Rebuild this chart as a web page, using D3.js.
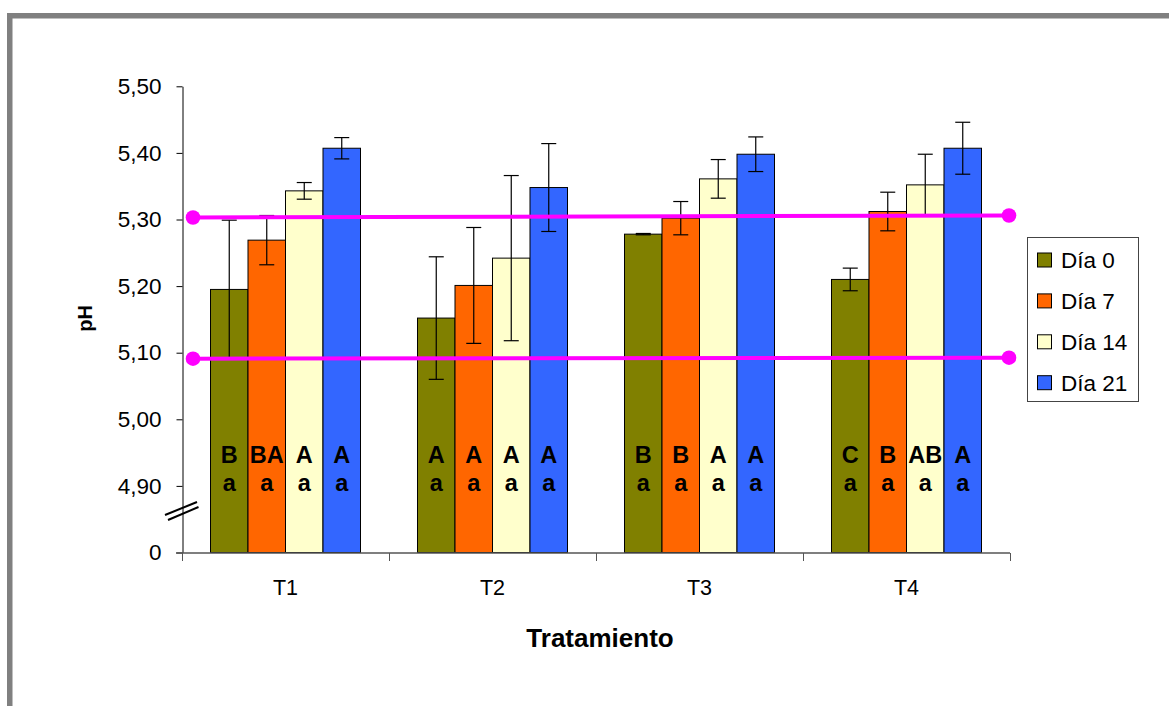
<!DOCTYPE html>
<html>
<head>
<meta charset="utf-8">
<script src="https://cdn.jsdelivr.net/npm/d3@7"></script>
<style>
  html, body { margin: 0; padding: 0; background: #fff; }
  svg { display: block; font-family: "Liberation Sans", Arial, sans-serif; }
</style>
</head>
<body>
<svg id="chart" width="1169" height="706"></svg>
<script>
// ---- data ----
const categories = ["T1", "T2", "T3", "T4"];
const series = ["Día 0", "Día 7", "Día 14", "Día 21"];
const colors = ["#808000", "#FF6600", "#FFFFCC", "#3366FF"];
const dia0 = [5.195, 5.152, 5.278, 5.210];
const dia7 = [5.269, 5.201, 5.302, 5.312];
const dia14 = [5.343, 5.242, 5.361, 5.352];
const dia21 = [5.407, 5.348, 5.398, 5.407];
const err0 = [0.104, 0.092, 0.001, 0.017];
const err7 = [0.037, 0.087, 0.025, 0.029];
const err14 = [0.0125, 0.124, 0.029, 0.046];
const err21 = [0.016, 0.066, 0.026, 0.039];
const upperLetters0 = ["B", "A", "B", "C"];
const upperLetters7 = ["BA", "A", "B", "B"];
const upperLetters14 = ["A", "A", "A", "AB"];
const upperLetters21 = ["A", "A", "A", "A"];
const lowerLetters0 = ["a", "a", "a", "a"];
const lowerLetters7 = ["a", "a", "a", "a"];
const lowerLetters14 = ["a", "a", "a", "a"];
const lowerLetters21 = ["a", "a", "a", "a"];
const tickValues = [4.8, 4.9, 5.0, 5.1, 5.2, 5.3, 5.4, 5.5];
const tickLabels = ["0", "4,90", "5,00", "5,10", "5,20", "5,30", "5,40", "5,50"];
const refLineUpper = [5.303, 5.306];
const refLineLower = [5.091, 5.0925];

const values = [dia0, dia7, dia14, dia21];
const errs = [err0, err7, err14, err21];
const uppers = [upperLetters0, upperLetters7, upperLetters14, upperLetters21];
const lowers = [lowerLetters0, lowerLetters7, lowerLetters14, lowerLetters21];

const svg = d3.select("#chart");

// outer frame
svg.append("rect")
  .attr("x", 9.75).attr("y", 15.75)
  .attr("width", 1300).attr("height", 900)
  .attr("fill", "#fff").attr("stroke", "#808080").attr("stroke-width", 5.5);

// scales
const y = d3.scaleLinear().domain([4.8, 5.5]).range([552.5, 86.3]);
const x0 = d3.scaleBand().domain(categories).range([182, 1010]).padding(0);
const bw = x0.bandwidth();
const x1 = d3.scaleBand().domain(series).range([bw * 0.1377, bw * 0.8623]).padding(0);

// y axis
const yAxis = d3.axisLeft(y)
  .tickValues(tickValues)
  .tickFormat((d, i) => tickLabels[i])
  .tickSize(6).tickSizeOuter(0).tickPadding(15);
const gy = svg.append("g").attr("transform", "translate(182.5,0)").call(yAxis);
gy.select(".domain").attr("stroke", "#000");
gy.selectAll(".tick line").attr("stroke", "#000");
gy.selectAll(".tick text").attr("font-size", 22.5).attr("fill", "#000")
  .attr("font-family", "'Liberation Sans', Arial, sans-serif");

// bars
const groups = svg.append("g").selectAll("g")
  .data(categories).join("g")
  .attr("transform", d => `translate(${x0(d)},0)`);

series.forEach((s, si) => {
  groups.append("rect")
    .attr("x", (d, ci) => x1(s))
    .attr("y", (d, ci) => y(values[si][ci]))
    .attr("width", x1.bandwidth())
    .attr("height", (d, ci) => y(4.8) - y(values[si][ci]))
    .attr("fill", colors[si])
    .attr("stroke", "#000").attr("stroke-width", 1);
});

// x axis line + boundary ticks
const xAxisY = y(4.8) + 0.5;
svg.append("line")
  .attr("x1", 176).attr("x2", x0.range()[1])
  .attr("y1", xAxisY).attr("y2", xAxisY)
  .attr("stroke", "#555").attr("stroke-width", 1.5);
const boundaries = categories.map(c => x0(c)).concat([x0.range()[1]]);
svg.append("g").selectAll("line").data(boundaries).join("line")
  .attr("x1", d => d + 0.5).attr("x2", d => d + 0.5)
  .attr("y1", xAxisY).attr("y2", xAxisY + 8)
  .attr("stroke", "#555").attr("stroke-width", 1);

// category labels
const xAxis = d3.axisBottom(x0).tickSize(0).tickPadding(0);
const gx = svg.append("g").attr("transform", "translate(0,580)").call(xAxis);
gx.select(".domain").remove();
gx.selectAll(".tick text").attr("font-size", 21.5).attr("fill", "#000")
  .attr("font-family", "'Liberation Sans', Arial, sans-serif")
  .attr("dy", "0.71em");

// axis break marks
[0, 5].forEach(off => {
  svg.append("line")
    .attr("x1", 165 + off * 0.6).attr("y1", 515 + off)
    .attr("x2", 197 + off * 0.3).attr("y2", 502 + off)
    .attr("stroke", "#000").attr("stroke-width", 2);
});

// error bars
series.forEach((s, si) => {
  const eg = groups.append("g");
  const cx = x1(s) + x1.bandwidth() / 2;
  eg.append("line")
    .attr("x1", cx).attr("x2", cx)
    .attr("y1", (d, ci) => y(values[si][ci] + errs[si][ci]))
    .attr("y2", (d, ci) => y(values[si][ci] - errs[si][ci]))
    .attr("stroke", "#000").attr("stroke-width", 1.2);
  [1, -1].forEach(sign => {
    eg.append("line")
      .attr("x1", cx - 7.5).attr("x2", cx + 7.5)
      .attr("y1", (d, ci) => y(values[si][ci] + sign * errs[si][ci]))
      .attr("y2", (d, ci) => y(values[si][ci] + sign * errs[si][ci]))
      .attr("stroke", "#000").attr("stroke-width", 1.2);
  });
});

// letters
series.forEach((s, si) => {
  const cx = x1(s) + x1.bandwidth() / 2;
  groups.append("text")
    .attr("x", cx).attr("y", y(4.935))
    .attr("text-anchor", "middle")
    .attr("font-size", 23.5).attr("font-weight", "bold")
    .text((d, ci) => uppers[si][ci]);
  groups.append("text")
    .attr("x", cx).attr("y", y(4.892))
    .attr("text-anchor", "middle")
    .attr("font-size", 23.5).attr("font-weight", "bold")
    .text((d, ci) => lowers[si][ci]);
});

// reference lines (magenta)
const lx1 = x0.range()[0] + 11, lx2 = x0.range()[1] - 1;
[refLineUpper, refLineLower].forEach(rl => {
  svg.append("line")
    .attr("x1", lx1).attr("x2", lx2)
    .attr("y1", y(rl[0])).attr("y2", y(rl[1]))
    .attr("stroke", "#FF00FF").attr("stroke-width", 4);
  svg.append("circle").attr("cx", lx1).attr("cy", y(rl[0])).attr("r", 7.3).attr("fill", "#FF00FF");
  svg.append("circle").attr("cx", lx2).attr("cy", y(rl[1])).attr("r", 7.3).attr("fill", "#FF00FF");
});

// axis titles
svg.append("text")
  .attr("x", 600).attr("y", 646.5)
  .attr("text-anchor", "middle")
  .attr("font-size", 26).attr("font-weight", "bold")
  .text("Tratamiento");
svg.append("text")
  .attr("transform", "translate(92,318.5) rotate(-90)")
  .attr("text-anchor", "middle")
  .attr("font-size", 20).attr("font-weight", "bold")
  .text("pH");

// legend
const legend = svg.append("g");
legend.append("rect")
  .attr("x", 1027.5).attr("y", 237.5).attr("width", 111).attr("height", 164)
  .attr("fill", "#fff").attr("stroke", "#444").attr("stroke-width", 1);
series.forEach((s, i) => {
  const cy = 260 + i * 40.9;
  legend.append("rect")
    .attr("x", 1037.5).attr("y", cy - 7).attr("width", 14).attr("height", 14)
    .attr("fill", colors[i]).attr("stroke", "#000").attr("stroke-width", 1);
  legend.append("text")
    .attr("x", 1061).attr("y", cy + 8)
    .attr("font-size", 22.5).attr("fill", "#000")
    .text(s);
});
</script>
</body>
</html>
